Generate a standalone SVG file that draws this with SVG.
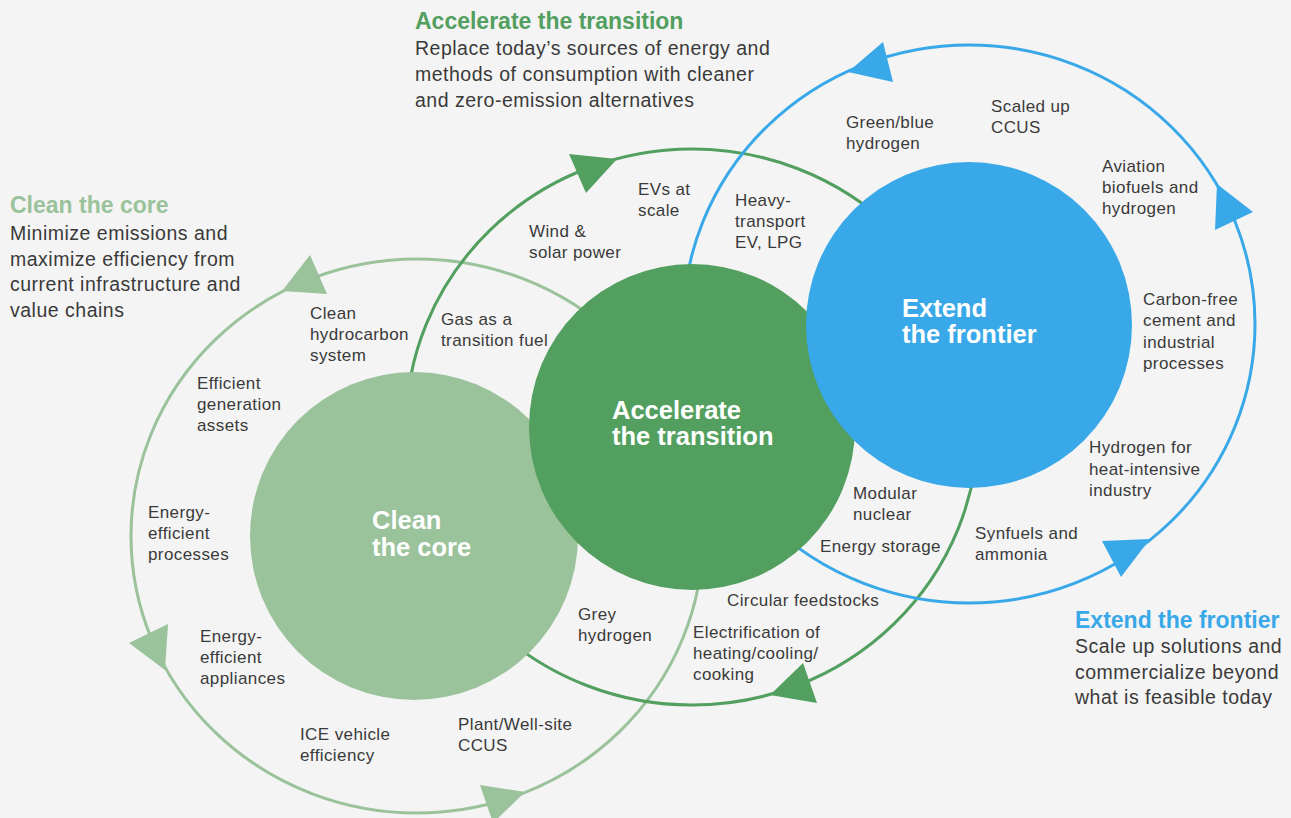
<svg xmlns="http://www.w3.org/2000/svg" width="1291" height="818" viewBox="0 0 1291 818">
<style>
.lbl{font-family:"Liberation Sans",Arial,sans-serif;font-size:17px;letter-spacing:0.4px;fill:#3a3a3a}
.body{font-family:"Liberation Sans",Arial,sans-serif;font-size:19.5px;letter-spacing:0.5px;fill:#3a3a3a}
.ttl{font-family:"Liberation Sans",Arial,sans-serif;font-size:23px;font-weight:bold}
.big{font-family:"Liberation Sans",Arial,sans-serif;font-size:25.5px;font-weight:bold;fill:#ffffff}
.ring{fill:none;stroke-width:3}
.lg{fill:#9ac29b}.dg{fill:#529f5f}.bl{fill:#38a8e8}
</style>
<rect x="0" y="0" width="1291" height="818" fill="#f4f4f4"/>
<g id="connectors">
<ellipse class="ring" cx="417" cy="536" rx="286" ry="277" stroke="#9ac29b"/>
<ellipse class="ring" cx="692" cy="427" rx="286" ry="278" stroke="#529f5f"/>
<ellipse class="ring" cx="969" cy="324" rx="286" ry="279" stroke="#38a8e8"/>
<polygon class="lg" points="310,255 327,294 282,291"/>
<polygon class="lg" points="129,643 168,624 165,670"/>
<polygon class="lg" points="480,785 525,792 493,823"/>
<polygon class="dg" points="569,154 617,159 586,193"/>
<polygon class="dg" points="817,703 803,663 770,695"/>
<polygon class="bl" points="883,42 893,82 848,72"/>
<polygon class="bl" points="1253,212 1217,184 1215,230"/>
<polygon class="bl" points="1102,541 1150,539 1121,577"/>
</g>
<g id="node-clean">
<circle cx="414" cy="536" r="164" fill="#9ac29b"/>
<text class="big"><tspan x="372" y="529">Clean</tspan><tspan x="372" y="556">the core</tspan></text>
</g>
<g id="node-accelerate">
<circle cx="692" cy="427" r="163" fill="#529f5f"/>
<text class="big"><tspan x="612" y="419">Accelerate</tspan><tspan x="612" y="445">the transition</tspan></text>
</g>
<g id="node-extend">
<circle cx="969" cy="325" r="163" fill="#38a8e8"/>
<text class="big"><tspan x="902" y="317">Extend</tspan><tspan x="902" y="343">the frontier</tspan></text>
</g>
<g id="legend-accelerate">
<text class="ttl" x="415" y="29" fill="#529f5f">Accelerate the transition</text>
<text class="body"><tspan x="415" y="55">Replace today’s sources of energy and</tspan><tspan x="415" y="81">methods of consumption with cleaner</tspan><tspan x="415" y="107">and zero-emission alternatives</tspan></text>
</g>
<g id="legend-clean">
<text class="ttl" x="10" y="213" fill="#9ac29b">Clean the core</text>
<text class="body"><tspan x="10" y="240">Minimize emissions and</tspan><tspan x="10" y="266">maximize efficiency from</tspan><tspan x="10" y="291">current infrastructure and</tspan><tspan x="10" y="317">value chains</tspan></text>
</g>
<g id="legend-extend">
<text class="ttl" x="1075" y="628" fill="#38a8e8">Extend the frontier</text>
<text class="body"><tspan x="1075" y="653">Scale up solutions and</tspan><tspan x="1075" y="679">commercialize beyond</tspan><tspan x="1075" y="704">what is feasible today</tspan></text>
</g>
<g id="item-clean-hydrocarbon"><text class="lbl"><tspan x="310" y="319">Clean</tspan><tspan x="310" y="340">hydrocarbon</tspan><tspan x="310" y="361">system</tspan></text></g>
<g id="item-efficient-generation"><text class="lbl"><tspan x="197" y="389">Efficient</tspan><tspan x="197" y="410">generation</tspan><tspan x="197" y="431">assets</tspan></text></g>
<g id="item-energy-processes"><text class="lbl"><tspan x="148" y="518">Energy-</tspan><tspan x="148" y="539">efficient</tspan><tspan x="148" y="560">processes</tspan></text></g>
<g id="item-energy-appliances"><text class="lbl"><tspan x="200" y="642">Energy-</tspan><tspan x="200" y="663">efficient</tspan><tspan x="200" y="684">appliances</tspan></text></g>
<g id="item-ice"><text class="lbl"><tspan x="300" y="740">ICE vehicle</tspan><tspan x="300" y="761">efficiency</tspan></text></g>
<g id="item-plant-ccus"><text class="lbl"><tspan x="458" y="730">Plant/Well-site</tspan><tspan x="458" y="751">CCUS</tspan></text></g>
<g id="item-grey-hydrogen"><text class="lbl"><tspan x="578" y="620">Grey</tspan><tspan x="578" y="641">hydrogen</tspan></text></g>
<g id="item-gas"><text class="lbl"><tspan x="441" y="325">Gas as a</tspan><tspan x="441" y="346">transition fuel</tspan></text></g>
<g id="item-wind"><text class="lbl"><tspan x="529" y="237">Wind &amp;</tspan><tspan x="529" y="258">solar power</tspan></text></g>
<g id="item-evs"><text class="lbl"><tspan x="638" y="195">EVs at</tspan><tspan x="638" y="216">scale</tspan></text></g>
<g id="item-heavy"><text class="lbl"><tspan x="735" y="206">Heavy-</tspan><tspan x="735" y="227">transport</tspan><tspan x="735" y="248">EV, LPG</tspan></text></g>
<g id="item-modular"><text class="lbl"><tspan x="853" y="499">Modular</tspan><tspan x="853" y="520">nuclear</tspan></text></g>
<g id="item-storage"><text class="lbl" x="820" y="552">Energy storage</text></g>
<g id="item-circular"><text class="lbl" x="727" y="606">Circular feedstocks</text></g>
<g id="item-electrification"><text class="lbl"><tspan x="693" y="638">Electrification of</tspan><tspan x="693" y="659">heating/cooling/</tspan><tspan x="693" y="680">cooking</tspan></text></g>
<g id="item-green-hydrogen"><text class="lbl"><tspan x="846" y="128">Green/blue</tspan><tspan x="846" y="149">hydrogen</tspan></text></g>
<g id="item-scaled-ccus"><text class="lbl"><tspan x="991" y="112">Scaled up</tspan><tspan x="991" y="133">CCUS</tspan></text></g>
<g id="item-aviation"><text class="lbl"><tspan x="1102" y="172">Aviation</tspan><tspan x="1102" y="193">biofuels and</tspan><tspan x="1102" y="214">hydrogen</tspan></text></g>
<g id="item-cement"><text class="lbl"><tspan x="1143" y="305">Carbon-free</tspan><tspan x="1143" y="326">cement and</tspan><tspan x="1143" y="348">industrial</tspan><tspan x="1143" y="369">processes</tspan></text></g>
<g id="item-hydrogen-heat"><text class="lbl"><tspan x="1089" y="453">Hydrogen for</tspan><tspan x="1089" y="475">heat-intensive</tspan><tspan x="1089" y="496">industry</tspan></text></g>
<g id="item-synfuels"><text class="lbl"><tspan x="975" y="539">Synfuels and</tspan><tspan x="975" y="560">ammonia</tspan></text></g>
</svg>
